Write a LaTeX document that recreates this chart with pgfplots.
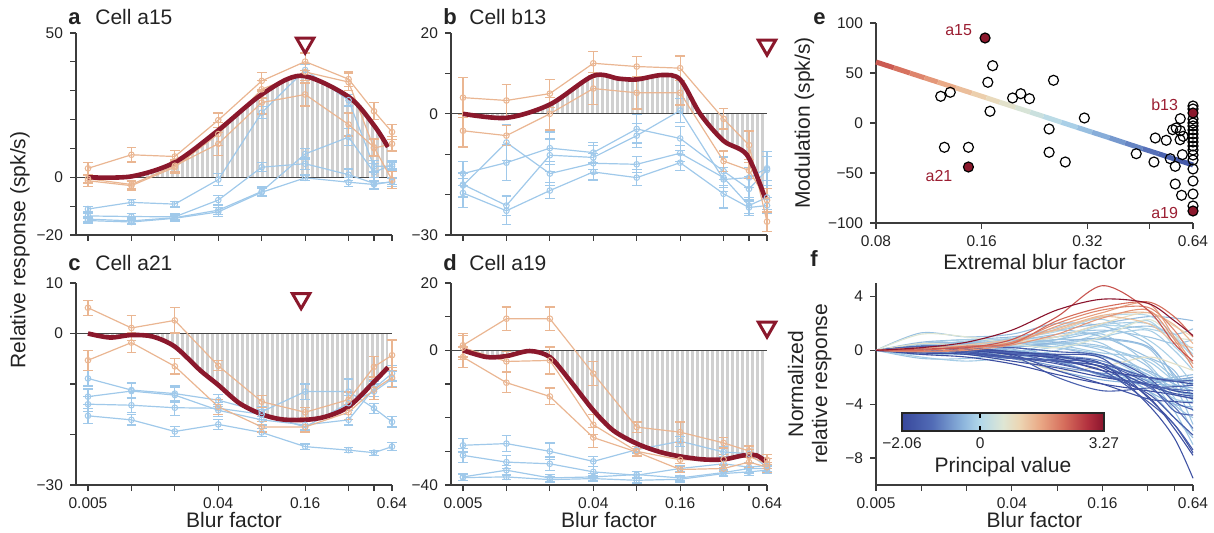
\documentclass[border=0pt]{standalone}
\usepackage{fontspec}
\setmainfont{Liberation Sans}
\usepackage{pgfplots}
\usepackage{pgfplotstable}
\pgfplotsset{compat=1.18}
\usepgfplotslibrary{fillbetween}
\usetikzlibrary{patterns.meta}

\definecolor{peach}{RGB}{234,182,146}
\definecolor{lblue}{RGB}{160,201,234}
\definecolor{dred}{RGB}{139,24,44}
\definecolor{hatch}{RGB}{208,208,208}
\definecolor{axc}{RGB}{60,60,60}
\definecolor{txc}{RGB}{35,35,35}
\definecolor{zeroc}{RGB}{70,70,70}
\definecolor{lblred}{RGB}{155,30,50}

% vertical grey bars under the fitted curves (cells overlap so no seams show)
\tikzdeclarepattern{
  name=vhatch, type=uncolored,
  bottom left={(0pt,-1pt)}, top right={(2.5pt,11pt)}, tile size={(2.5pt,10pt)},
  code={\pgfpathrectangle{\pgfqpoint{0.6pt}{-1pt}}{\pgfqpoint{1.3pt}{12pt}}\pgfusepath{fill}}
}

\newcommand{\tks}{\fontsize{7.75}{9}\selectfont}
\newcommand{\lbs}{\fontsize{10.5}{12}\selectfont}

\pgfplotsset{
  colormap={pv}{rgb255(0cm)=(56,72,156); rgb255(15cm)=(82,108,182); rgb255(30cm)=(140,180,220);
    rgb255(38.6cm)=(178,216,234); rgb255(50cm)=(222,230,212); rgb255(58cm)=(236,214,180);
    rgb255(68cm)=(234,170,135); rgb255(80cm)=(214,110,92); rgb255(92cm)=(178,48,62); rgb255(100cm)=(138,20,45)},
  pnlbase/.style={scale only axis, axis x line*=bottom, axis y line*=left,
    axis line style={draw=axc, line width=0.6pt}, tick style={draw=axc, line width=0.6pt},
    tick align=outside, major tick length=3pt,
    tick label style={font=\tks, text=txc}, label style={font=\lbs, text=txc}, clip=false},
  pnlblur/.style={pnlbase, width=158pt, height=101pt, xmin=0.00413, xmax=0.64,
    xtick={0.005,0.01,0.02,0.04,0.08,0.16,0.32,0.48,0.64}, xticklabels={,,,,,,,,}},
  blurlab/.style={xticklabels={0.005,,,0.04,,0.16,,,0.64}, xlabel={Blur factor}, xlabel style={yshift=5pt}},
  ser/.style={line width=0.6pt, mark=o, mark size=1.4pt, mark options={solid, line width=0.5pt},
    error bars/y dir=both, error bars/y explicit,
    error bars/error bar style={line width=0.6pt},
    error bars/error mark options={rotate=90, line width=0.6pt, mark size=2.4pt}},
  ora/.style={ser, peach},
  blu/.style={ser, lblue},
  crv/.style={smooth, dred, line width=2.3pt},
  zer/.style={draw=zeroc, line width=0.7pt},
  hat/.style={draw=none, pattern=vhatch, pattern color=hatch},
  tri/.style={only marks, mark=triangle, mark size=5pt, mark options={rotate=180, draw=dred, fill=white, line width=1.5pt}},
}

% panel tables: x, series values and their errors
\pgfplotstableread{
x     o1    eo1  o2    eo2  o3    eo3  b1    eb1  b2    eb2  b3    eb3  b4    eb4
0.005 3.1   2    -1.2  2    -0.5  1.5  -11   1    -13.4 1    -14.5 1    -15   1
0.01  7.8   2.5  -2.9  1.5  -2.5  1.5  -8.7  1    -13.6 1    -15.1 1    -15.5 1
0.02  7.2   2    3.5   2    4     2    -9.3  1    -13.7 1    -14   1    -14.2 1
0.04  19.8  2.5  15    4    11.6  4    -0.8  2    -7.9  1.5  -11.4 1.5  -12   1.5
0.08  33.4  3    30.5  3    25.9  4    22.4  2    3.5   1.5  -4.9  1.5  -5.2  1.5
0.16  40.1  3    36.5  3    28.7  4    37.2  2    4.7   2    8.1   2    -0.2  1
0.32  34    2.5  33    3    18.3  4    26.7  2    0.9   2    13.9  3    -1.7  1.5
0.48  22.9  3    10.1  3    10.4  3    3.8   2    -2.1  2    1.7   3    -2.5  1.5
0.64  15.7  2.5  11.6  2.5  -0.9  3    3.8   1.5  -1.7  1.5  4.4   1.5  -1.5  1
}\tA
\pgfplotstableread{
x     y
0.005 0
0.01  0.3
0.02  5.2
0.04  16.3
0.08  28.7
0.15  35.2
0.32  27.9
0.48  18
0.6   10.5
}\cA
\pgfplotstableread{
x     o1    eo1  o2    eo2  b1    eb1  b2     eb2  b3     eb3  b4    eb4
0.005 4     5    -4.2  4    -14.8 3    -17.5  3    -17.75 3    -19.6 3.5
0.01  3.3   4    -5.4  2.5  -12.1 4.5  -22.7  2.5  -7.1   4.5  -24   3.5
0.02  5     3.5  0     4    -8.5  4    -10.25 4    -14.8  3    -19   2
0.04  12.5  3    6.25  4    -9.6  2.5  -10.8  3    -12.25 2.5  -14.4 2
0.08  11.7  2.5  5.2   4    -3.75 3.5  -5.4   3    -12.5  2    -15.8 2
0.16  11.3  3    5.2   3    -6.1  3    0.8    3    -9.75  2    -12.1 2
0.32  -1.25 2.5  -11.7 2.5  -14.2 3.5  -16.25 3    -15.8  2.5  -19.8 3.5
0.48  -7.75 3.5  -14   2    -18.6 3    -15.8  2.5  -22.7  2    -23.2 2
0.64  -26.7 2.5  -21.4 3    -13.9 4.5  -13.5  3    -20.7  3    -22.7 2
}\tB
\pgfplotstableread{
x     y
0.005 0
0.01  -1.0
0.02  2.3
0.04  9.4
0.06  8.7
0.08  8.5
0.12  9.6
0.16  8.5
0.22  0
0.32  -6.7
0.465 -10.2
0.62  -20.8
}\cB
\pgfplotstableread{
x     o1    eo1  o2    eo2  b1    eb1  b2    eb2  b3    eb3  b4    eb4
0.005 5.1   1.5  -5.3  2    -8.9  1.5  -12.5 1.5  -14   1.5  -16.3 1.5
0.01  1.1   2.5  -1.8  2    -11.2 1.5  -11.4 1.5  -14.2 1.5  -17.1 1
0.02  2.6   2.5  -6.5  1.5  -11.9 1.5  -12.2 1.5  -14.7 1.5  -19.4 1
0.04  -6.4  1    -14.5 1.5  -13.2 1.2  -15.2 1.2  -14.8 1.2  -18   1
0.08  -13.5 1.2  -18.5 1    -15.5 1    -17.1 1    -16   1    -19.6 0.8
0.16  -15.6 1    -18.5 1    -11.5 1.5  -18.1 1    -18.5 1    -22.4 0.5
0.32  -13.1 1.5  -15.6 1.5  -11.5 2.5  -17.1 1    -13.8 1.5  -23.1 0.5
0.48  -6.6  2    -11.1 2    -14.8 1    -10.9 1.5  -11.5 1.5  -23.6 0.5
0.64  -4.3  3    -8.7  2    -17.5 1    -7.9  1.5  -9    1.5  -22.4 0.8
}\tC
\pgfplotstableread{
x      y
0.005  0
0.0071 -0.8
0.01   -0.3
0.014  -0.6
0.02   -2.6
0.03   -7.3
0.04   -10.2
0.056  -13.8
0.08   -16
0.11   -17
0.16   -17.1
0.22   -16.5
0.32   -14.5
0.48   -9.6
0.6    -6.7
}\cC
\pgfplotstableread{
x     o1    eo1  o2    eo2  o3    eo3  b1    eb1  b2    eb2  b3    eb3  b4    eb4
0.005 1.5   3.5  0.8   3.5  -2    3    -28.2 2    -31.2 2    -37.6 1    -37.8 0.8
0.01  9.4   3.5  -3.3  3    -9.6  3    -27.7 2.3  -33.2 2    -35.6 1.5  -37.6 0.8
0.02  9.4   3.5  -3    4    -13.7 2.5  -30   2.5  -33.7 2    -37.9 1    -38.4 0.8
0.04  -6.9  3.5  -22.1 3    -25.9 3    -33   1.5  -36.1 1.5  -37.6 1    -38.1 0.8
0.08  -22.8 1.5  -30   1.5  -30.2 1    -29.5 1    -37.1 1    -36.9 1    -38.6 0.8
0.16  -24.3 3    -32.5 1    -35.4 1    -27   1.5  -35.1 1    -37.9 0.8  -38.3 0.8
0.32  -27.5 1.5  -32.4 1.5  -35.1 1    -30.2 1.5  -33.7 1    -36.3 0.8  -36.6 0.8
0.48  -29.9 1.5  -31.5 2    -33.2 1.5  -30.7 2.5  -34.7 1.5  -35.1 1.5  -36.1 1
0.64  -32.5 1.5  -33.7 1.5  -34.7 1.5  -34.7 1.5  -34.2 1    -35.1 1    -35.6 1
}\tD
\pgfplotstableread{
x      y
0.005  0
0.0073 -2
0.01   -1.7
0.0145 -0.2
0.02   -2
0.0275 -8.9
0.04   -17.8
0.055  -23.8
0.08   -27.7
0.116  -30.2
0.16   -31.5
0.23   -32.4
0.32   -32.4
0.44   -31.2
0.54   -31.2
0.62   -32.9
}\cD

% one normalized curve of panel f: colormap value, then y at 0.01 ... 0.64
\newcommand{\fc}[9]{\addplot[smooth, line width=0.55pt, color of colormap={#1}] coordinates
  {(0.005,0)(0.01,#2)(0.02,#3)(0.04,#4)(0.08,#5)(0.16,#6)(0.32,#7)(0.48,#8)(0.64,#9)};}

\begin{document}
\begin{tikzpicture}

% ---------- a ----------
\begin{axis}[xmode=log, pnlblur, at={(38pt,-117.5pt)}, anchor=south west,
  ymin=-20, ymax=50, ytick={-20,-10,...,50}, yticklabels={−20,,0,,,,,50}]
\addplot[draw=none, smooth, name path=cv] table {\cA};
\addplot[draw=none, name path=zl] coordinates {(0.005,0) (0.6,0)};
\addplot[hat] fill between[of=cv and zl];
\addplot[zer] coordinates {(0.00413,0) (0.64,0)};
\addplot[blu] table[y=b1, y error=eb1] {\tA};
\addplot[blu] table[y=b2, y error=eb2] {\tA};
\addplot[blu] table[y=b3, y error=eb3] {\tA};
\addplot[blu] table[y=b4, y error=eb4] {\tA};
\addplot[ora] table[y=o1, y error=eo1] {\tA};
\addplot[ora] table[y=o2, y error=eo2] {\tA};
\addplot[ora] table[y=o3, y error=eo3] {\tA};
\addplot[crv] table {\cA};
\addplot[tri] coordinates {(0.16,46.5)};
\end{axis}

% ---------- b ----------
\begin{axis}[xmode=log, pnlblur, at={(225.5pt,-117.5pt)}, anchor=south west,
  ymin=-30, ymax=20, ytick={-30,-20,...,20}, yticklabels={−30,,,0,,20}]
\addplot[draw=none, smooth, name path=cv] table {\cB};
\addplot[draw=none, name path=zl] coordinates {(0.005,0) (0.62,0)};
\addplot[hat] fill between[of=cv and zl];
\addplot[zer] coordinates {(0.00413,0) (0.64,0)};
\addplot[blu] table[y=b1, y error=eb1] {\tB};
\addplot[blu] table[y=b2, y error=eb2] {\tB};
\addplot[blu] table[y=b3, y error=eb3] {\tB};
\addplot[blu] table[y=b4, y error=eb4] {\tB};
\addplot[ora] table[y=o1, y error=eo1] {\tB};
\addplot[ora] table[y=o2, y error=eo2] {\tB};
\addplot[crv] table {\cB};
\addplot[tri] coordinates {(0.64,17)};
\end{axis}

% ---------- c ----------
\begin{axis}[xmode=log, pnlblur, blurlab, at={(38pt,-242.5pt)}, anchor=south west,
  ymin=-30, ymax=10, ytick={-30,-20,...,10}, yticklabels={−30,,,0,10}]
\addplot[draw=none, smooth, name path=cv] table {\cC};
\addplot[draw=none, name path=zl] coordinates {(0.005,0) (0.6,0)};
\addplot[hat] fill between[of=cv and zl];
\addplot[zer] coordinates {(0.00413,0) (0.64,0)};
\addplot[blu] table[y=b1, y error=eb1] {\tC};
\addplot[blu] table[y=b2, y error=eb2] {\tC};
\addplot[blu] table[y=b3, y error=eb3] {\tC};
\addplot[blu] table[y=b4, y error=eb4] {\tC};
\addplot[ora] table[y=o1, y error=eo1] {\tC};
\addplot[ora] table[y=o2, y error=eo2] {\tC};
\addplot[crv] table {\cC};
\addplot[tri] coordinates {(0.15,6.9)};
\end{axis}

% ---------- d ----------
\begin{axis}[xmode=log, pnlblur, blurlab, at={(225.5pt,-242.5pt)}, anchor=south west,
  ymin=-40, ymax=20, ytick={-40,-30,...,20}, yticklabels={−40,,,,0,,20}]
\addplot[draw=none, smooth, name path=cv] table {\cD};
\addplot[draw=none, name path=zl] coordinates {(0.005,0) (0.62,0)};
\addplot[hat] fill between[of=cv and zl];
\addplot[zer] coordinates {(0.00413,0) (0.64,0)};
\addplot[blu] table[y=b1, y error=eb1] {\tD};
\addplot[blu] table[y=b2, y error=eb2] {\tD};
\addplot[blu] table[y=b3, y error=eb3] {\tD};
\addplot[blu] table[y=b4, y error=eb4] {\tD};
\addplot[ora] table[y=o1, y error=eo1] {\tD};
\addplot[ora] table[y=o2, y error=eo2] {\tD};
\addplot[ora] table[y=o3, y error=eo3] {\tD};
\addplot[crv] table {\cD};
\addplot[tri] coordinates {(0.64,6.9)};
\end{axis}

% ---------- e ----------
\begin{axis}[xmode=log, pnlbase, at={(438pt,-111.5pt)}, anchor=south west, width=158.5pt, height=100pt,
  xmin=0.08, xmax=0.64, ymin=-100, ymax=100,
  xtick={0.08,0.16,0.32,0.48,0.64}, xticklabels={0.08,0.16,0.32,,0.64},
  ytick={-100,-50,0,50,100}, yticklabels={−100,−50,0,50,100},
  xlabel={Extremal blur factor}, xlabel style={yshift=3pt}, ylabel={Modulation (spk/s)},
  colormap name=pv, point meta min=-48.5, point meta max=79]
\addplot[only marks, mark=o, mark size=2.5pt, mark options={draw=black, line width=0.6pt}] coordinates {
  (0.172,57.3) (0.1666,40.7) (0.169,11.7) (0.1223,26.7) (0.1302,30.7) (0.1253,-24.3) (0.1467,-24.3)
  (0.196,25) (0.2068,29.3) (0.2189,24.3) (0.2563,42.7) (0.249,-6) (0.249,-29.3) (0.2769,-39) (0.3138,5)
  (0.441,-30.7) (0.4997,-15) (0.4953,-39) (0.5369,-17.3) (0.5512,-35.7) (0.5695,-43.3) (0.5695,-61)
  (0.5887,4.3) (0.573,-5) (0.5887,-7.7) (0.597,-31.7) (0.5937,-72.3) (0.6,-13.3) (0.56,-6.7) (0.588,-16.7)
  (0.64,17) (0.64,14) (0.64,4) (0.64,0) (0.64,-3) (0.64,-7) (0.64,-11) (0.64,-15) (0.64,-19) (0.64,-23)
  (0.64,-27) (0.64,-32) (0.64,-37) (0.64,-46) (0.64,-58) (0.64,-71) (0.64,-83)};
\addplot[mesh, point meta=y, line width=2.5pt] coordinates {
  (0.08,61) (0.09,55.2) (0.1,49.9) (0.11,45.2) (0.12,40.9) (0.135,35.1) (0.15,29.9) (0.165,25.2)
  (0.18,20.8) (0.2,15.6) (0.22,10.9) (0.24,6.6) (0.27,0.7) (0.3,-4.5) (0.33,-9.2) (0.37,-14.8)
  (0.41,-20) (0.46,-25.7) (0.51,-30.7) (0.57,-36.3) (0.64,-42)};
\addplot[only marks, mark=*, mark size=2.5pt, mark options={draw=black, fill=dred, line width=0.6pt}] coordinates {
  (0.1636,85) (0.1467,-44) (0.64,10) (0.64,-88)};
\node[anchor=east, xshift=-3pt, yshift=4pt, font=\fontsize{8}{9.6}\selectfont, text=lblred] at (axis cs:0.1636,85) {a15};
\node[anchor=east, xshift=-4.5pt, yshift=-4.5pt, font=\fontsize{8}{9.6}\selectfont, text=lblred] at (axis cs:0.1467,-44) {a21};
\node[anchor=east, xshift=-4pt, yshift=4pt, font=\fontsize{8}{9.6}\selectfont, text=lblred] at (axis cs:0.64,10) {b13};
\node[anchor=east, xshift=-4pt, yshift=-1pt, font=\fontsize{8}{9.6}\selectfont, text=lblred] at (axis cs:0.64,-88) {a19};
\end{axis}

% ---------- f ----------
\begin{axis}[xmode=log, pnlbase, at={(438pt,-242.5pt)}, anchor=south west, width=158.5pt, height=101pt,
  xmin=0.005, xmax=0.64, ymin=-10, ymax=5,
  xtick={0.005,0.01,0.02,0.04,0.08,0.16,0.32,0.48,0.64}, xticklabels={0.005,,,0.04,,0.16,,,0.64},
  ytick={-8,-4,0,4}, yticklabels={−8,−4,0,4},
  xlabel={Blur factor}, xlabel style={yshift=5pt},
  ylabel={Normalized\\relative response}, ylabel style={align=center},
  colormap name=pv, point meta min=-2.06, point meta max=3.27,
  colorbar horizontal,
  colorbar style={at={(parent axis.south west)}, anchor=south west, xshift=13pt, yshift=35.5pt,
    scale only axis, width=101pt, height=9pt, xmode=normal, ymode=normal, axis lines=box,
    xtick={-2.06,0,3.27}, xticklabels={−2.06,0,3.27}, ytick=\empty, tick align=inside,
    major tick length=2.5pt, xticklabel pos=lower, xtick style={draw=black, line width=0.6pt},
    axis line style={draw=black!85, line width=0.7pt}, tick label style={font=\tks, text=txc},
    xlabel={Principal value}, ylabel={}, xlabel style={font=\lbs, text=txc, yshift=3pt}}]
\fc{330}{1.3}{1.0}{1.2}{2.0}{1.8}{0.5}{-2.0}{-4.5}
\fc{320}{0.6}{0.8}{1.0}{1.5}{2.0}{2.5}{2.4}{2.2}
\fc{350}{0.3}{0.5}{0.8}{1.0}{1.2}{-1.0}{-3.5}{-6.0}
\fc{340}{0.2}{0.4}{0.3}{0.5}{0.8}{0.2}{-2.5}{-5.5}
\fc{310}{-0.3}{0.2}{0.5}{0.2}{-0.5}{-1.5}{-2.5}{-3.0}
\fc{300}{0.1}{0}{-0.2}{-0.5}{-1.0}{-2.0}{-3.0}{-3.3}
\fc{360}{-0.5}{-0.8}{-0.5}{0}{1.0}{1.5}{0}{-1.5}
\fc{340}{0.4}{0.5}{0.7}{1.2}{1.5}{1.0}{0.5}{0.8}
\fc{300}{0}{-0.2}{-0.6}{-1.5}{-2.2}{-2.5}{-2.6}{-2.8}
\fc{350}{0.2}{0.3}{0.4}{0.8}{0.5}{-2.0}{-4.5}{-7.0}
\fc{380}{-0.2}{-0.3}{-0.2}{0.3}{1.3}{2.2}{0.3}{-1.0}
\fc{390}{0.3}{0.7}{0.9}{1.4}{2.5}{2.6}{1.2}{0}
\fc{320}{0.1}{0.3}{0.1}{-0.8}{-1.8}{-2.2}{-2.0}{-1.8}
\fc{340}{-0.6}{-0.6}{-0.2}{0.5}{0.3}{-1.2}{-4.0}{-5.0}
\fc{310}{0.2}{0.5}{0.3}{-0.5}{-1.0}{-3.0}{-4.0}{-4.2}
\fc{360}{0.5}{0.8}{0.6}{0.5}{0.2}{-0.8}{-2.2}{-2.0}
\fc{330}{0.1}{0.2}{0.6}{1.5}{1.0}{-0.5}{-1.5}{-3.8}
\fc{380}{-0.3}{-0.2}{0.2}{0.8}{1.8}{1.6}{1.0}{-0.3}
\fc{310}{0.3}{0.4}{0.0}{-0.3}{-0.4}{-1.8}{-3.0}{-2.2}
\fc{370}{0}{0.3}{0.8}{1.7}{2.3}{0.8}{-0.8}{-2.5}
\fc{320}{0.2}{0.1}{-0.3}{-0.8}{-1.2}{-3.0}{-5.0}{-6.5}
\fc{350}{-0.2}{0}{0.3}{0.2}{-0.4}{-2.2}{-3.6}{-3.8}
\fc{340}{0.4}{0.6}{0.8}{0.6}{0}{-1.6}{-2.8}{-3.0}
\fc{330}{0.5}{0.6}{0.5}{0.8}{1.4}{1.8}{1.2}{1.6}
\fc{350}{0.1}{0.4}{0.6}{0.4}{-0.2}{-0.6}{-2.0}{-2.6}
\fc{310}{-0.2}{-0.1}{0.2}{0.6}{0.9}{0.3}{-1.8}{-3.4}
\fc{360}{0.3}{0.2}{0.5}{1.0}{1.9}{2.0}{0.9}{-0.5}
\fc{500}{1.2}{1.0}{0.5}{0.2}{1.0}{2.3}{1.0}{0.8}
\fc{530}{0.5}{0.3}{-0.5}{-1.5}{-1.2}{-0.5}{-1.0}{-1.5}
\fc{560}{0.1}{0.3}{0.6}{1.0}{2.0}{2.8}{1.8}{1.0}
\fc{250}{0.1}{0.0}{-0.5}{-1.2}{-1.7}{-2.0}{-2.2}{-2.3}
\fc{220}{0.2}{0.1}{-0.2}{-0.4}{-0.8}{-2.3}{-3.3}{-3.5}
\fc{180}{-0.1}{-0.3}{-0.6}{-0.8}{-1.2}{-2.7}{-4.2}{-5.8}
\fc{270}{0.2}{0.0}{-0.1}{-0.7}{-1.9}{-2.4}{-2.2}{-2.0}
\fc{40}{0.2}{0.1}{-0.3}{-0.5}{-1.0}{-4.0}{-6.5}{-9.5}
\fc{60}{0.3}{0.2}{-0.2}{-0.3}{-0.6}{-3.5}{-5.5}{-7.6}
\fc{80}{0.1}{-0.2}{-0.6}{-0.8}{-1.5}{-3.8}{-5.5}{-7.4}
\fc{20}{-0.2}{-0.3}{-0.8}{-1.3}{-2.0}{-2.5}{-3.0}{-3.2}
\fc{100}{0}{0}{-0.4}{-2.0}{-3.0}{-2.8}{-2.7}{-2.6}
\fc{50}{0.3}{0.2}{-0.3}{-1.5}{-2.5}{-3.6}{-3.8}{-3.9}
\fc{120}{0.2}{-0.1}{-0.6}{-0.7}{-1.0}{-2.5}{-4.5}{-4.8}
\fc{30}{-0.3}{-0.5}{-1.0}{-1.8}{-2.5}{-3.0}{-3.3}{-3.6}
\fc{90}{0.2}{0.3}{0.2}{-0.1}{-0.4}{-2.0}{-3.8}{-4.4}
\fc{10}{0.1}{0.0}{-0.3}{-0.6}{-1.5}{-2.0}{-2.3}{-2.5}
\fc{70}{-0.1}{-0.1}{-0.5}{-1.0}{-1.8}{-3.2}{-5.0}{-6.3}
\fc{110}{0.3}{0.2}{-0.1}{-0.5}{-1.0}{-2.0}{-2.3}{-2.2}
\fc{60}{0}{-0.2}{-0.5}{-0.8}{-1.2}{-2.6}{-3.2}{-3.4}
\fc{130}{0.2}{0.1}{-0.2}{-0.9}{-1.8}{-2.6}{-2.9}{-3.0}
\fc{25}{0.1}{0.1}{-0.1}{-0.4}{-1.3}{-3.4}{-5.8}{-7.8}
\fc{620}{0.1}{0.4}{0.8}{1.5}{2.5}{2.0}{0.6}{0.2}
\fc{650}{0}{0.2}{0.6}{1.6}{2.6}{2.8}{1.9}{0.5}
\fc{700}{0.2}{0.3}{0.5}{1.8}{2.8}{3.5}{1.0}{-1.0}
\fc{720}{-0.1}{0}{0.4}{1.2}{2.4}{3.0}{0.8}{-1.3}
\fc{750}{-0.1}{0.1}{0.6}{2.0}{3.0}{3.2}{1.5}{-0.5}
\fc{800}{0}{0.3}{0.5}{2.2}{3.2}{3.6}{2.5}{1.0}
\fc{850}{0.1}{0.2}{0.8}{2.5}{4.8}{3.0}{0.5}{-0.8}
\fc{1000}{0.2}{0.6}{1.5}{3.0}{3.8}{3.5}{2.2}{1.1}
\end{axis}

% panel letters, titles and the shared y label
\begin{scope}[every node/.style={anchor=base west, text=txc, inner sep=0pt}]
\node[font=\fontsize{11}{13}\selectfont\bfseries] at (34pt,-12.5pt) {a};
\node[font=\lbs] at (47.5pt,-12.5pt) {Cell a15};
\node[font=\fontsize{11}{13}\selectfont\bfseries] at (221.5pt,-12.5pt) {b};
\node[font=\lbs] at (234.5pt,-12.5pt) {Cell b13};
\node[font=\fontsize{11}{13}\selectfont\bfseries] at (34pt,-135.5pt) {c};
\node[font=\lbs] at (47.5pt,-135.5pt) {Cell a21};
\node[font=\fontsize{11}{13}\selectfont\bfseries] at (221.5pt,-135.5pt) {d};
\node[font=\lbs] at (234.5pt,-135.5pt) {Cell a19};
\node[font=\fontsize{11}{13}\selectfont\bfseries] at (406.5pt,-12.5pt) {e};
\node[font=\fontsize{11}{13}\selectfont\bfseries] at (405pt,-133.5pt) {f};
\end{scope}
\node[rotate=90, font=\lbs, text=txc] at (10pt,-125pt) {Relative response (spk/s)};
\pgfresetboundingbox
\useasboundingbox (0,0) rectangle (607pt,-266.5pt);
\end{tikzpicture}
\end{document}
